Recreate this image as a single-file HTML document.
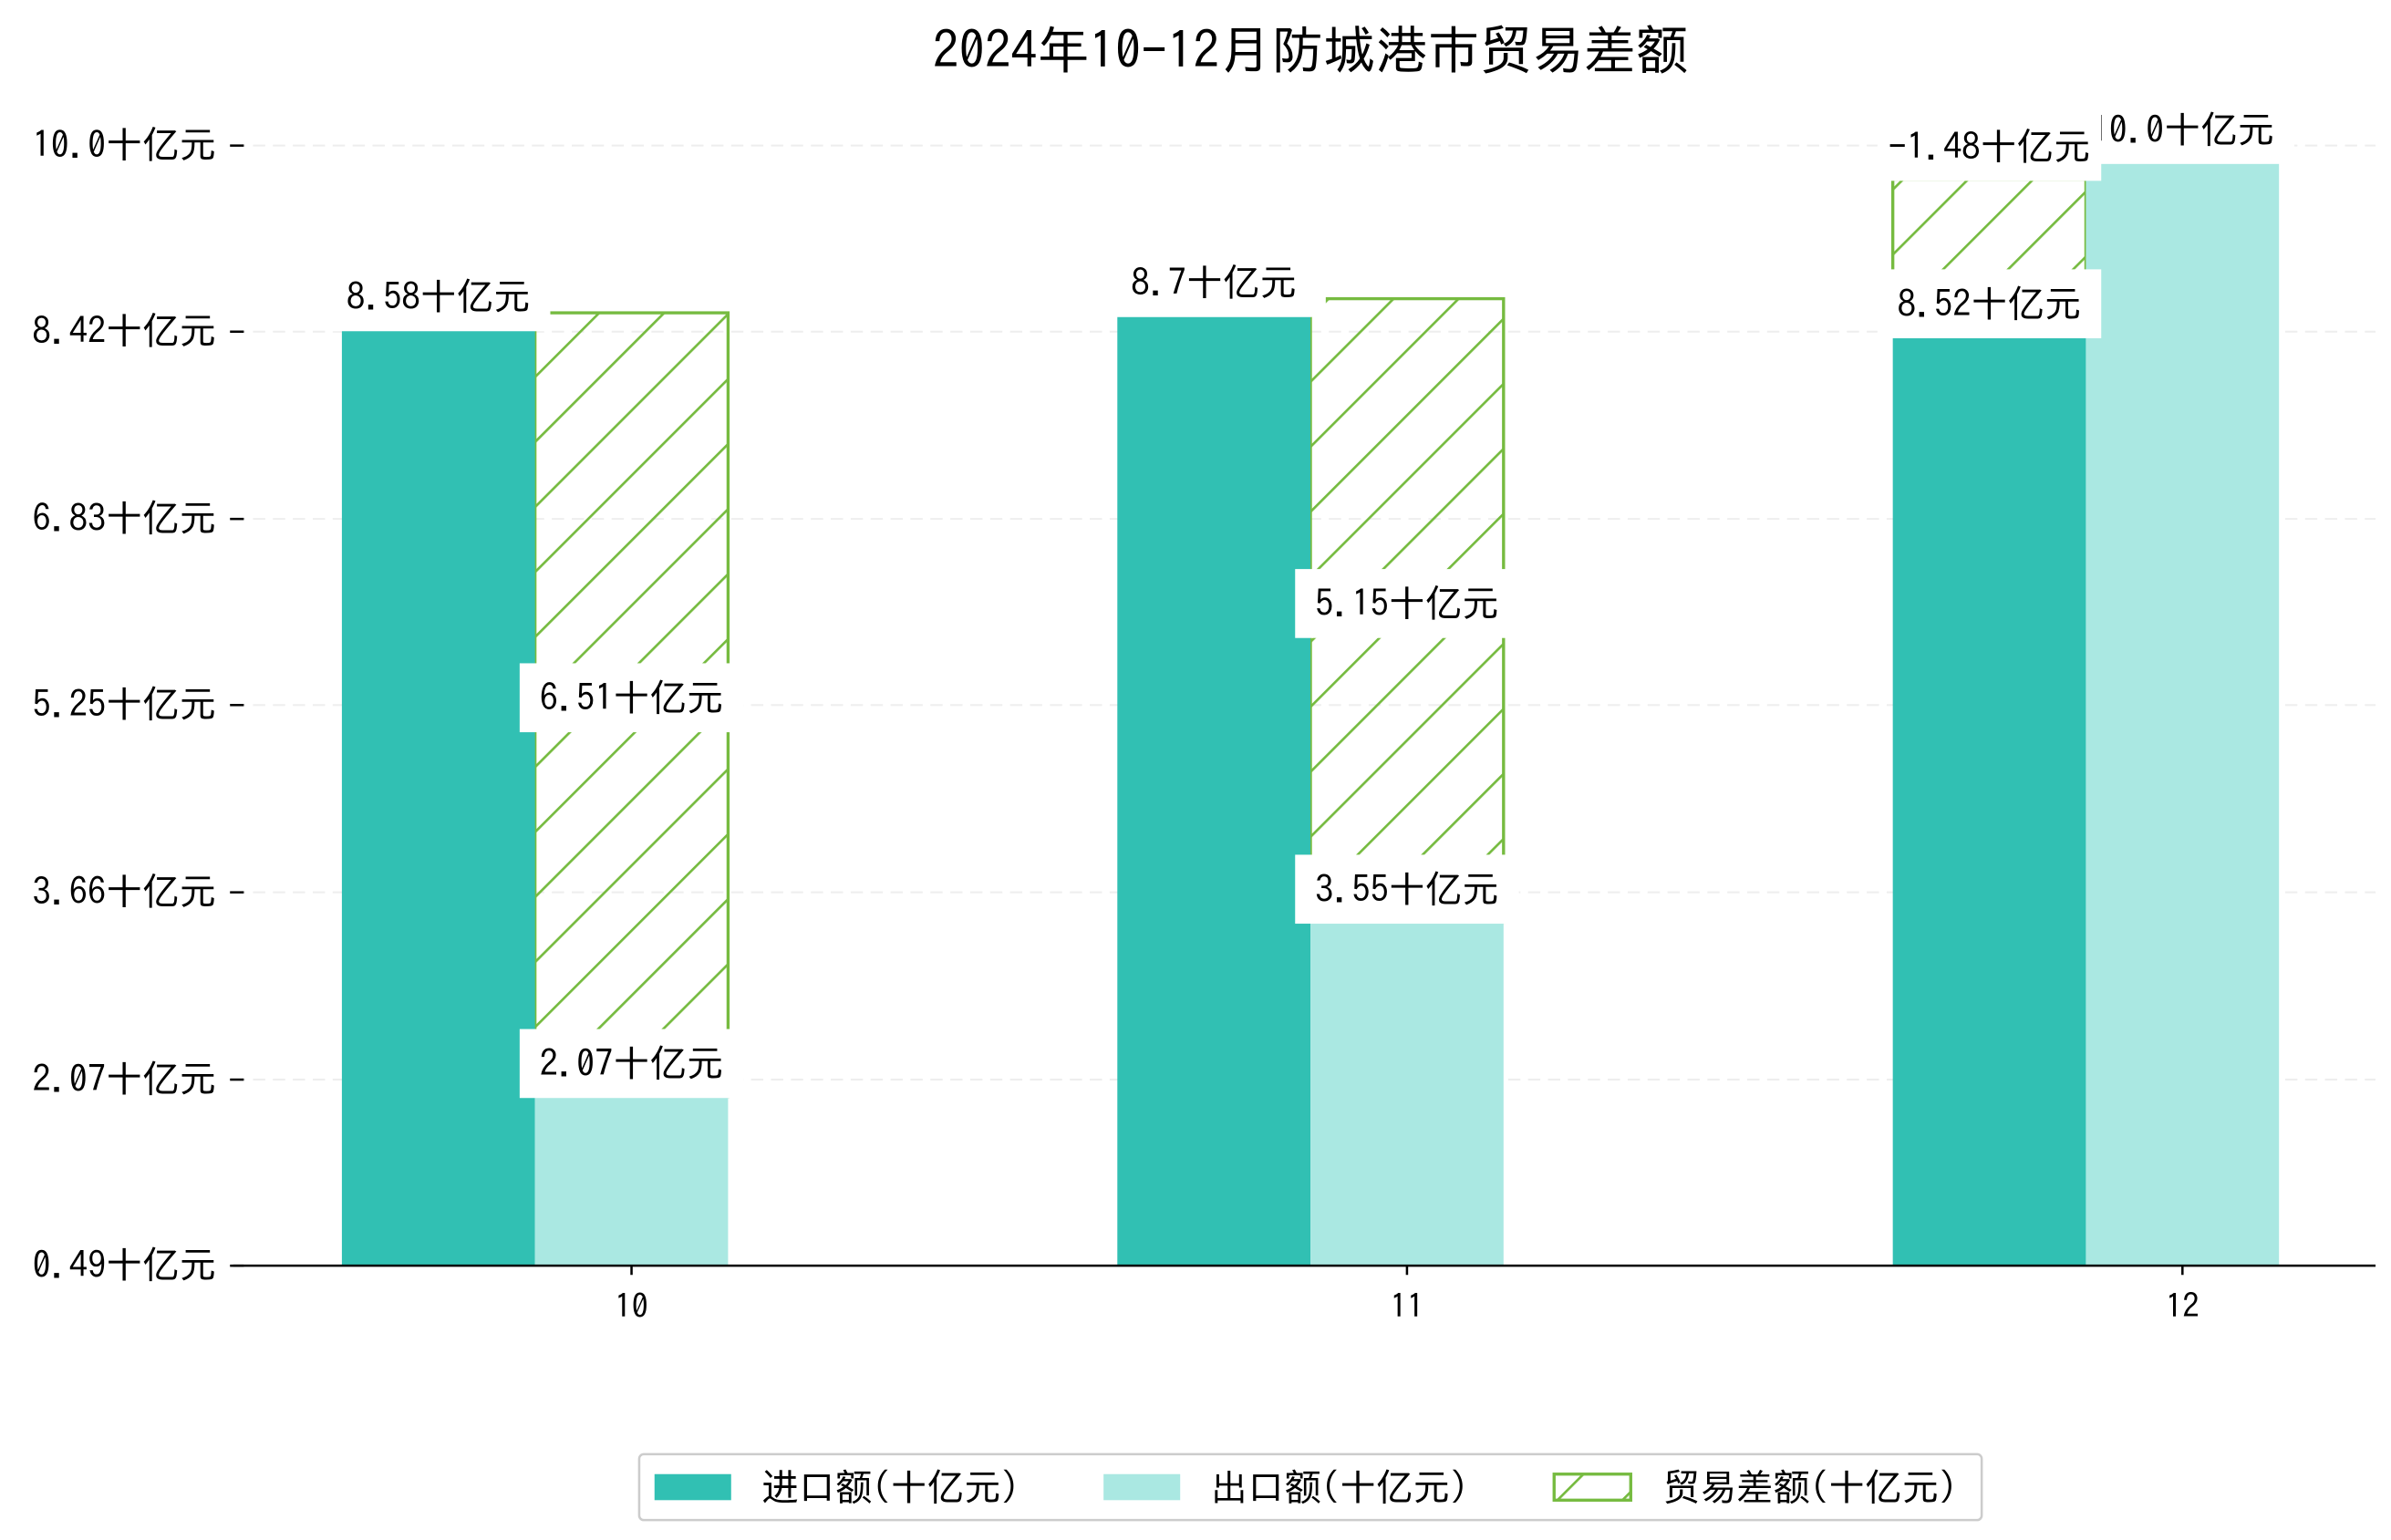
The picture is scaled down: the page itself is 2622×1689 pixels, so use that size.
<!DOCTYPE html>
<html><head><meta charset="utf-8"><style>
html,body{margin:0;padding:0;background:#fff;}
svg{display:block;font-family:"IPAGothic","WenQuanYi Zen Hei","Noto Sans CJK SC",sans-serif;}
</style></head><body>
<svg id="chart" width="2622" height="1689" viewBox="0 0 1560 1005" xmlns="http://www.w3.org/2000/svg">
<defs>
<pattern id="hatch" patternUnits="userSpaceOnUse" width="30" height="30" patternTransform="rotate(45)">
<line x1="0" y1="0" x2="0" y2="30" stroke="#76bb40" stroke-width="3.2"/>
</pattern>
</defs>
<text x="855" y="45" text-anchor="middle" font-size="34">2024年10-12月防城港市贸易差额</text>
<g id="grid"></g><g id="bars"></g><g id="labels"></g><g id="axes"></g>
<g>
<rect x="417" y="949" width="876" height="43" fill="#fff" stroke="#ccc" stroke-width="1.5" rx="3"/>
<rect x="427" y="962" width="50" height="17" fill="#31c0b3"/>
<text x="497" y="979" font-size="24">进口额(十亿元)</text>
<rect x="720" y="962" width="50" height="17" fill="#aae8e2"/>
<text x="790" y="979" font-size="24">出口额(十亿元)</text>
<rect x="1014" y="962" width="50" height="17" fill="url(#hatch)" stroke="#76bb40" stroke-width="2"/>
<text x="1085" y="979" font-size="24">贸易差额(十亿元)</text>
</g>
</svg>
<script>
const categories = ['10','11','12'];
const importValues = [8.58, 8.7, 8.52];
const exportValues = [2.07, 3.55, 10.0];
const balanceValues = [6.51, 5.15, -1.48];
const yTicks = [0.49, 2.07, 3.66, 5.25, 6.83, 8.42, 10.0];
const yTickLabels = ['0.49十亿元','2.07十亿元','3.66十亿元','5.25十亿元','6.83十亿元','8.42十亿元','10.0十亿元'];

const NS='http://www.w3.org/2000/svg';
const yMin=0.49,yMax=10.0,yBot=826,yTop=95;
const y=v=>yBot-(v-yMin)/(yMax-yMin)*(yBot-yTop);
const x0=412,step=506,bw=126,off=11;
const xc=i=>x0+i*step;
function mk(tag,attrs,parent){const e=document.createElementNS(NS,tag);for(const k in attrs)e.setAttribute(k,attrs[k]);parent.appendChild(e);return e;}
const grid=document.getElementById('grid'),bars=document.getElementById('bars'),labels=document.getElementById('labels'),axes=document.getElementById('axes');

yTicks.forEach((t,i)=>{
  const g=mk('line',{x1:152,x2:1550,y1:y(t),y2:y(t),stroke:'#eee','stroke-dasharray':'8,5','stroke-width':1.2},grid);
  
  
  const tm=mk('line',{x1:150,x2:159,y1:y(t),y2:y(t),stroke:'#000','stroke-width':1.5},axes);
  
  
  const tx=mk('text',{x:141,y:y(t)+8,'text-anchor':'end','font-size':24},axes);
  tx.textContent=yTickLabels[i];
  
  
});
const ax=mk('line',{x1:152,x2:1550,y1:yBot,y2:yBot,stroke:'#000','stroke-width':1.5},axes);



function label(cx,cy,txt,name){
  const r=mk('rect',{x:cx-73,y:cy-22,width:146,height:45,fill:'#fff'},labels);
  
  
  const t=mk('text',{x:cx,y:cy+9,'text-anchor':'middle','font-size':24},labels);
  t.textContent=txt;
  
  
}

categories.forEach((c,i)=>{
  const ix=xc(i)-1.5*bw, ex=xc(i)-0.5*bw;
  const iv=importValues[i],ev=exportValues[i],bv=balanceValues[i];
  const it=y(iv)+off;
  const et=y(ev)+off;
  let hx,ht,hb;
  if(bv>=0){hx=ex;ht=y(ev+bv);hb=et;}else{hx=ix;ht=y(ev)+2*off;hb=y(iv);}
  const r3=mk('rect',{x:hx,y:ht,width:bw,height:Math.max(0,hb-ht),fill:'url(#hatch)',stroke:'#76bb40','stroke-width':2},bars);
  
  
  const r1=mk('rect',{x:ix,y:it,width:bw,height:yBot-it,fill:'#31c0b3'},bars);
  
  
  const r2=mk('rect',{x:ex,y:et,width:bw,height:yBot-et,fill:'#aae8e2'},bars);
  
  
  const tk=mk('line',{x1:xc(i),x2:xc(i),y1:yBot,y2:yBot+6,stroke:'#000','stroke-width':1.5},axes);
  
  
  const tl=mk('text',{x:xc(i),y:yBot+34,'text-anchor':'middle','font-size':22},axes);
  tl.textContent=c;
  
  
  label(ix+bw/2,it-22,iv+'十亿元','import-value-label');
  label(ex+bw/2,et-22,(ev===10?'10.0':String(ev))+'十亿元','export-value-label');
  if(bv>=0) label(hx+bw/2,(ht+hb)/2-5,bv+'十亿元','balance-value-label');
  else label(hx+bw/2,y(ev),bv+'十亿元','balance-value-label');
});
</script>
</body></html>
